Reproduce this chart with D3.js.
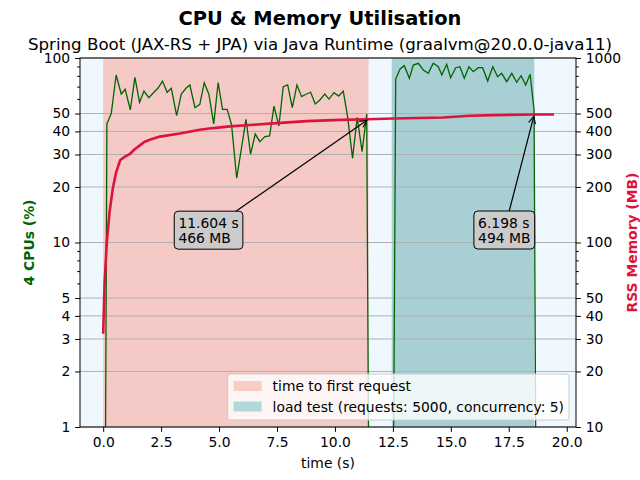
<!DOCTYPE html>
<html>
<head>
<meta charset="utf-8">
<script src="https://cdn.jsdelivr.net/npm/d3@7"></script>
<style>
  body { margin: 0; background: #fff; }
  text { font-family: "DejaVu Sans", sans-serif; }
</style>
</head>
<body>
<div id="chart"></div>
<script>
// CPU samples (time in s, % of 4 CPUs)
const cpuTime = [0.0, 0.16, 0.35, 0.56, 0.78, 0.95, 1.17, 1.37, 1.57, 1.76, 1.97, 2.19, 2.36, 2.56, 2.76, 2.94,
  3.17, 3.37, 3.57, 3.74, 3.96, 4.17, 4.36, 4.56, 4.77, 4.96, 5.15, 5.35, 5.54, 5.76, 5.96, 6.16, 6.36, 6.56,
  6.76, 6.98, 7.18, 7.37, 7.58, 7.77, 7.96, 8.16, 8.36, 8.56, 8.75, 8.95, 9.15, 9.35, 9.56, 9.74, 9.96, 10.16,
  10.36, 10.55, 10.76, 10.96, 11.17, 11.37, 11.58, 11.78, 11.98, 12.18, 12.40,
  12.62, 12.81, 12.99, 13.21, 13.38, 13.60, 13.81, 14.03, 14.24, 14.46, 14.61, 14.82, 14.99, 15.21, 15.39,
  15.58, 15.78, 15.97, 16.18, 16.37, 16.59, 16.81, 17.02, 17.19, 17.41, 17.63, 17.84, 18.03, 18.23, 18.42,
  18.59, 18.78];
const cpuPct = [0, 43.9, 50.1, 80.9, 63.8, 67.7, 52.3, 78.6, 57.5, 66.2, 60.9, 65.2, 68.5, 75.0, 65.2, 68.5,
  48.7, 63.8, 68.5, 71.4, 53.8, 56.1, 73.5, 63.6, 43.9, 73.5, 52.7, 52.7, 43.4, 22.3, 32.1, 46.5, 30.1, 38.7,
  35.2, 37.5, 37.8, 54.9, 42.8, 69.9, 71.4, 53.8, 71.4, 61.7, 63.6, 65.2, 56.3, 59.2, 63.8, 59.9, 64.9, 62.2,
  66.2, 47.7, 28.6, 47.7, 31.1, 49.7, 0, 0, 0, 0, 0,
  76.9, 87.2, 90.9, 77.6, 91.6, 93.6, 86.1, 82.6, 93.6, 89.7, 80.9, 92.4, 78.2, 88.6, 89.7,
  77.6, 89.7, 84.3, 88.6, 88.6, 75.0, 89.7, 79.2, 82.6, 74.4, 82.6, 73.8, 80.2, 71.4, 81.6,
  52.3, 0];

// RSS memory samples (time in s, MB)
const memTime = [0.0, 0.06, 0.16, 0.28, 0.42, 0.56, 0.73, 0.92, 1.14, 1.36, 1.57, 1.79, 2.07, 2.45, 3.31,
  4.17, 4.75, 5.47, 6.33, 7.34, 8.78, 10.22, 11.44, 12.52, 14.67, 15.83, 16.83, 18.56, 19.45];
const memMB = [32, 60, 102, 148, 198, 240, 279, 291, 301, 320, 335, 352, 363, 375, 390,
  408, 417, 426, 433, 442, 455, 462, 466, 470, 476, 486, 490, 494, 494];

// phases
const phaseLabels = ["time to first request", "load test (requests: 5000, concurrency: 5)"];
const phaseStart = [0.0, 12.45];
const phaseEnd = [11.45, 18.6];
const phaseColors = ["#f4c9c6", "#a8d0d4"];
const legendColors = ["#f9cdc6", "#b1d8da"];

const annotTime = [11.45, 18.6];
const annotMB = [466, 494];
const annotText = [["11.604 s", "466 MB"], ["6.198 s", "494 MB"]];

const xTicks = [0, 2.5, 5, 7.5, 10, 12.5, 15, 17.5, 20];
const cpuTicks = [1, 2, 3, 4, 5, 10, 20, 30, 40, 50, 100];
const cpuMinor = [6, 7, 8, 9, 60, 70, 80, 90];
const memTicks = [10, 20, 30, 40, 50, 100, 200, 300, 400, 500, 1000];
const memMinor = [60, 70, 80, 90, 600, 700, 800, 900];

const width = 640, height = 480;
const L = 80, R = 576, T = 58, B = 427;
const fs = 13.89;

const svg = d3.select("#chart").append("svg")
  .attr("width", width).attr("height", height);

const x = d3.scaleLinear().domain([-1.0, 20.4]).range([L, R]);
const yCpu = d3.scaleLog().domain([1, 100]).range([B, T]);
const yMem = d3.scaleLog().domain([10, 1000]).range([B, T]);

svg.append("defs").append("clipPath").attr("id", "plot")
  .append("rect").attr("x", L).attr("y", T).attr("width", R - L).attr("height", B - T);

svg.append("rect").attr("x", L).attr("y", T).attr("width", R - L).attr("height", B - T)
  .attr("fill", "#f0f8ff");

svg.append("g").selectAll("rect")
  .data(d3.range(phaseLabels.length))
  .join("rect")
  .attr("x", i => x(phaseStart[i]))
  .attr("width", i => x(phaseEnd[i]) - x(phaseStart[i]))
  .attr("y", T).attr("height", B - T)
  .attr("fill", i => phaseColors[i]);

// grid
svg.append("g").selectAll("line")
  .data(cpuTicks)
  .join("line")
  .attr("x1", L).attr("x2", R)
  .attr("y1", d => yCpu(d)).attr("y2", d => yCpu(d))
  .attr("stroke", "#b0b0b0").attr("stroke-width", 1);

const cpuData = d3.zip(cpuTime, cpuPct);
const memData = d3.zip(memTime, memMB);

const plot = svg.append("g").attr("clip-path", "url(#plot)");

plot.append("path")
  .datum(cpuData)
  .attr("fill", "none")
  .attr("stroke", "#006400")
  .attr("stroke-width", 1.3)
  .attr("d", d3.line().x(d => x(d[0])).y(d => yCpu(Math.max(d[1], 1e-3))));

plot.append("path")
  .datum(memData)
  .attr("fill", "none")
  .attr("stroke", "#dc143c")
  .attr("stroke-width", 2.6)
  .attr("stroke-linejoin", "round")
  .attr("d", d3.line().x(d => x(d[0])).y(d => yMem(d[1])));

// annotations
const boxOffsets = [[-160, 111], [-30, 115.5]];
annotTime.forEach((t, i) => {
  const tx = x(t), ty = yMem(annotMB[i]);
  const cx = tx + boxOffsets[i][0], cy = ty + boxOffsets[i][1];
  const g = svg.append("g");
  const rect = g.append("rect");
  const txt = g.append("text").attr("font-size", fs).attr("fill", "#000");
  annotText[i].forEach((s, k) => {
    txt.append("tspan").attr("x", 0).attr("y", (k - 0.5) * 15)
      .attr("dominant-baseline", "central").text(s);
  });
  const bb = txt.node().getBBox();
  const w = bb.width + 8.4, h = 38;
  txt.attr("transform", `translate(${cx - bb.width / 2},${cy})`);
  rect.attr("x", cx - w / 2).attr("y", cy - h / 2).attr("width", w).attr("height", h)
    .attr("rx", 4).attr("fill", "#cbcbcb").attr("stroke", "#000").attr("stroke-width", 1);
  // arrow from box edge to point
  const dx = tx - cx, dy = ty - cy;
  const sx = Math.abs(dx) > 0 ? (w / 2) / Math.abs(dx) : Infinity;
  const sy = Math.abs(dy) > 0 ? (h / 2) / Math.abs(dy) : Infinity;
  const s0 = Math.min(sx, sy);
  const len = Math.hypot(dx, dy);
  const ux = dx / len, uy = dy / len;
  const x0 = cx + dx * s0, y0 = cy + dy * s0;
  const x1 = tx - ux * 2, y1 = ty - uy * 2;
  svg.append("line").attr("x1", x0).attr("y1", y0).attr("x2", x1).attr("y2", y1)
    .attr("stroke", "#000").attr("stroke-width", 1.2);
  const hl = 7, hw = 3.5;
  const bx = x1 - ux * hl, by = y1 - uy * hl;
  svg.append("path")
    .attr("d", `M${bx - uy * hw},${by + ux * hw}L${x1},${y1}L${bx + uy * hw},${by - ux * hw}`)
    .attr("fill", "none").attr("stroke", "#000").attr("stroke-width", 1.2);
});

// legend
const lg = svg.append("g");
const lgBox = lg.append("rect");
const lgText = lg.selectAll("text")
  .data(phaseLabels)
  .join("text")
  .attr("font-size", fs)
  .text(d => d);
const maxW = d3.max(lgText.nodes(), n => n.getComputedTextLength());
const lgW = 45 + maxW + 5, lgH = 46;
const lgX = R - 7 - lgW, lgY = B - 7 - lgH;
lgBox.attr("x", lgX).attr("y", lgY).attr("width", lgW).attr("height", lgH)
  .attr("rx", 3).attr("fill", "#fff").attr("fill-opacity", 0.8)
  .attr("stroke", "#cccccc").attr("stroke-width", 1);
lg.selectAll("rect.patch")
  .data(phaseLabels)
  .join("rect")
  .attr("class", "patch")
  .attr("x", lgX + 6).attr("y", (d, i) => lgY + 7 + i * 20.5)
  .attr("width", 28).attr("height", 10)
  .attr("fill", (d, i) => legendColors[i]);
lgText.attr("x", lgX + 45).attr("y", (d, i) => lgY + 12 + i * 20.5)
  .attr("dominant-baseline", "central");

// axes
const xAxis = svg.append("g").attr("transform", `translate(0,${B})`)
  .call(d3.axisBottom(x).tickValues(xTicks).tickFormat(d3.format(".1f"))
    .tickSizeOuter(0).tickSize(4.9).tickPadding(4.9));

const leftAxis = svg.append("g").attr("transform", `translate(${L},0)`)
  .call(d3.axisLeft(yCpu).tickValues(cpuTicks).tickFormat(d3.format("d"))
    .tickSizeOuter(0).tickSize(4.9).tickPadding(4.9));
svg.append("g").attr("transform", `translate(${L},0)`)
  .call(d3.axisLeft(yCpu).tickValues(cpuMinor).tickFormat("").tickSizeOuter(0).tickSize(2.8));

const rightAxis = svg.append("g").attr("transform", `translate(${R},0)`)
  .call(d3.axisRight(yMem).tickValues(memTicks).tickFormat(d3.format("d"))
    .tickSizeOuter(0).tickSize(4.9).tickPadding(4.9));
svg.append("g").attr("transform", `translate(${R},0)`)
  .call(d3.axisRight(yMem).tickValues(memMinor).tickFormat("").tickSizeOuter(0).tickSize(2.8));

svg.selectAll(".domain").remove();
svg.selectAll(".tick text").attr("font-size", fs).attr("font-family", "DejaVu Sans").attr("fill", "#000");
svg.selectAll(".tick line").attr("stroke", "#000").attr("stroke-width", 1);

svg.append("rect").attr("x", L).attr("y", T).attr("width", R - L).attr("height", B - T)
  .attr("fill", "none").attr("stroke", "#000").attr("stroke-width", 1);

// labels
svg.append("text").attr("x", (L + R) / 2).attr("y", 468)
  .attr("text-anchor", "middle").attr("font-size", fs).text("time (s)");

svg.append("text")
  .attr("transform", `translate(34,${(T + B) / 2}) rotate(-90)`)
  .attr("text-anchor", "middle").attr("font-size", fs).attr("font-weight", "bold")
  .attr("fill", "#006400").text("4 CPUs (%)");

svg.append("text")
  .attr("transform", `translate(637,${(T + B) / 2}) rotate(-90)`)
  .attr("text-anchor", "middle").attr("font-size", fs).attr("font-weight", "bold")
  .attr("fill", "#dc143c").text("RSS Memory (MB)");

svg.append("text").attr("x", width / 2).attr("y", 25)
  .attr("text-anchor", "middle").attr("font-size", 19.44).attr("font-weight", "bold")
  .text("CPU & Memory Utilisation");

svg.append("text").attr("x", width / 2).attr("y", 50)
  .attr("text-anchor", "middle").attr("font-size", 16.67)
  .text("Spring Boot (JAX-RS + JPA) via Java Runtime (graalvm@20.0.0-java11)");
</script>
</body>
</html>
